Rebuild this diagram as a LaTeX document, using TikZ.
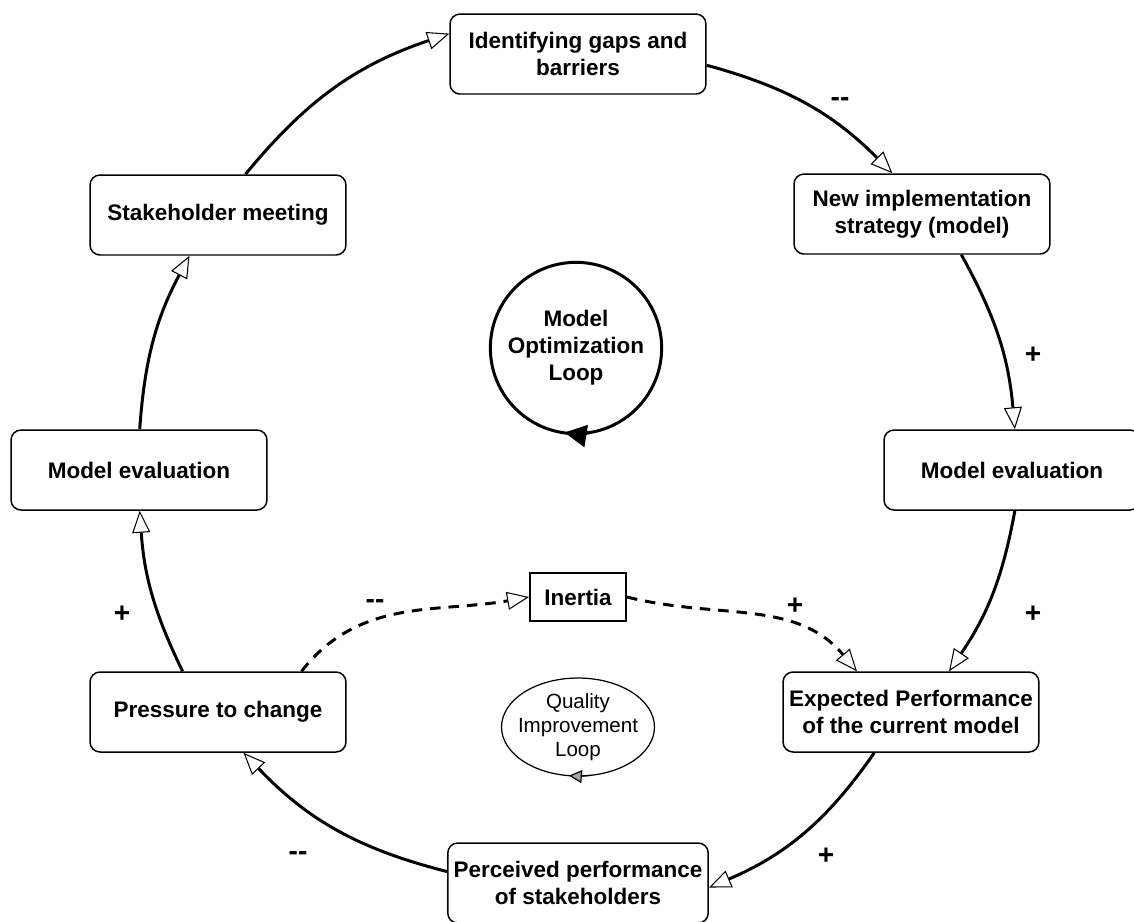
\documentclass[tikz,border=0pt]{standalone}
\usepackage{fontspec}
\setmainfont{Liberation Sans}
\usetikzlibrary{arrows.meta}
\usetikzlibrary{shapes.geometric}
\usetikzlibrary{positioning}

\tikzset{
  stage/.style={draw, fill=white, rounded corners=0.2cm, line width=0.85pt,
    minimum width=5.12cm, minimum height=1.6cm, align=center,
    font=\fontsize{12.8}{15.4}\selectfont\bfseries},
  flow/.style={line width=1.7pt,
    -{Triangle[fill=white, length=0.44cm, width=0.36cm, line width=0.6pt]}},
  lag/.style={flow, dash pattern=on 6pt off 4.5pt},
  sign/.style={font=\fontsize{16}{18}\selectfont\bfseries},
}

\begin{document}
\begin{tikzpicture}[x=0.02cm, y=-0.02cm]
\useasboundingbox (0,0) rectangle (1134,921);

% the stages of the big loop
\node[stage] (ident)    at (578,54)  {Identifying gaps and\\barriers};
\node[stage] (newimpl)  at (922,214) {New implementation\\strategy (model)};
\node[stage] (evalR)    at (1012,470) {Model evaluation};
\node[stage] (expected) at (911,712) {Expected Performance\\of the current model};
\node[stage] (perceived) at (578,883) {Perceived performance\\of stakeholders};
\node[stage] (pressure) at (218,712) {Pressure to change};
\node[stage] (evalL)    at (139,470) {Model evaluation};
\node[stage] (stake)    at (218,215) {Stakeholder meeting};

% loop names
\node[circle, draw, line width=1.7pt, outer sep=0pt, minimum size=3.2cm, align=center,
      font=\fontsize{12.8}{15.4}\selectfont\bfseries] (optloop) at (576,348)
      {Model\\Optimization\\Loop};
\draw[line width=1.7pt, -{Triangle[length=0.44cm, width=0.44cm]}]
  (optloop.-80) arc[start angle=-80, end angle=-99, radius=1.6cm];

\node[align=center, font=\fontsize{11.7}{13.7}\selectfont] (qualloop) at (578,727)
      {Quality\\Improvement\\Loop};
\draw[line width=0.7pt] (qualloop.center) ellipse[x radius=1.53cm, y radius=0.98cm];
\draw[line width=0.7pt, -{Triangle[length=0.26cm, width=0.26cm, fill=gray!70]}]
  ([xshift=0.27cm, yshift=-0.965cm]qualloop.center)
  arc[start angle=-80, end angle=-97, x radius=1.53cm, y radius=0.98cm];

\node[draw, line width=1.1pt, minimum width=1.92cm, minimum height=0.96cm,
      font=\fontsize{12.8}{15.4}\selectfont\bfseries] (inertia) at (578,597) {Inertia};

% connectors
\draw[flow] (ident.-5)      to[bend left=15] (newimpl.126);
\draw[flow] (newimpl.-46)   to[bend left=12] (evalR.86);
\draw[flow] (evalR.-86)     to[bend left=12] (expected.47);
\draw[flow] (expected.-132) to[bend left=16] (perceived.-2);
\draw[flow] (perceived.175) to[bend left=16] (pressure.-58);
\draw[flow] (pressure.131)  to[bend left=11] (evalL.-89);
\draw[flow] (evalL.89)      to[bend left=12] (stake.-125);
\draw[flow] (stake.56)      to[bend left=16] (ident.171);

\draw[lag] (pressure.26) to[out=52, in=190] (inertia.west);
\draw[lag] (inertia.east) to[out=-14, in=130] (expected.143);

% polarities
\node[sign] (s1) at (840,102) {-{}-};
\node[sign] (s2) at (1033,355) {+};
\node[sign] (s3) at (1033,614) {+};
\node[sign] (s4) at (826,856) {+};
\node[sign] (s5) at (298,856) {-{}-};
\node[sign] (s6) at (122,614) {+};
\node[sign] (s7) at (375,604) {-{}-};
\node[sign] (s8) at (795,606) {+};
\end{tikzpicture}
\end{document}
